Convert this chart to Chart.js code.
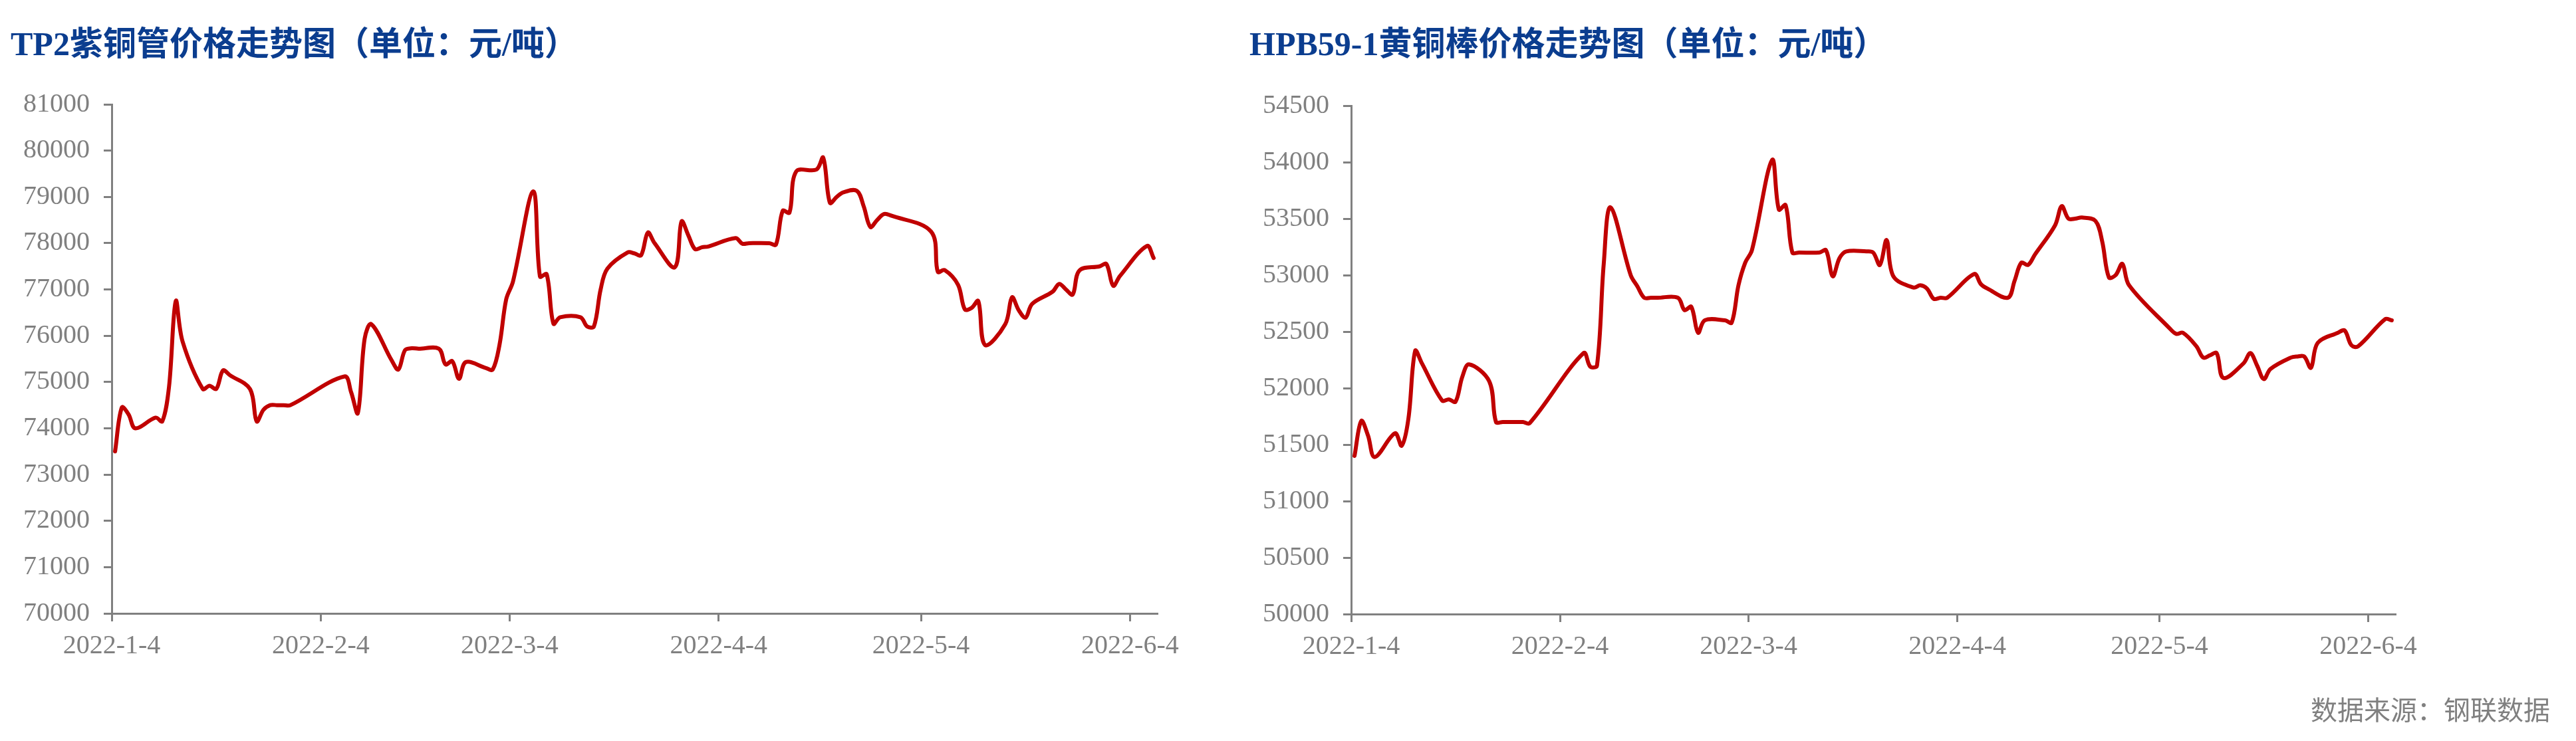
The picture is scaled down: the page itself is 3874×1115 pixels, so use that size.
<!DOCTYPE html>
<html>
<head>
<meta charset="utf-8">
<title>紫铜管 / 黄铜棒价格走势图</title>
<script src="https://cdn.jsdelivr.net/npm/chart.js@4.4.1/dist/chart.umd.min.js"></script>
<style>
  html, body { margin: 0; padding: 0; background: #fff; }
  body { width: 3874px; height: 1115px; position: relative; overflow: hidden; }
  canvas { position: absolute; top: 0; }
  #tp2 { left: 0; }
  #hpb { left: 1860px; }
</style>
</head>
<body>
<canvas id="tp2" width="1860" height="1115"></canvas>
<canvas id="hpb" width="2014" height="1115"></canvas>
<script>
// --- data ---
var tp2Dates = [
  '2022-1-4', '2022-1-5', '2022-1-6', '2022-1-7', '2022-1-10', '2022-1-11', '2022-1-12', '2022-1-13', '2022-1-14',
  '2022-1-17', '2022-1-18', '2022-1-19', '2022-1-20', '2022-1-21', '2022-1-24', '2022-1-25', '2022-1-26', '2022-1-27',
  '2022-1-28', '2022-1-29', '2022-1-30', '2022-2-7', '2022-2-8', '2022-2-9', '2022-2-10', '2022-2-11', '2022-2-14',
  '2022-2-15', '2022-2-16', '2022-2-17', '2022-2-18', '2022-2-21', '2022-2-22', '2022-2-23', '2022-2-24', '2022-2-25',
  '2022-2-28', '2022-3-1', '2022-3-2', '2022-3-3', '2022-3-4', '2022-3-7', '2022-3-8', '2022-3-9', '2022-3-10',
  '2022-3-11', '2022-3-14', '2022-3-15', '2022-3-16', '2022-3-17', '2022-3-18', '2022-3-21', '2022-3-22', '2022-3-23',
  '2022-3-24', '2022-3-25', '2022-3-28', '2022-3-29', '2022-3-30', '2022-3-31', '2022-4-1', '2022-4-2', '2022-4-6',
  '2022-4-7', '2022-4-8', '2022-4-11', '2022-4-12', '2022-4-13', '2022-4-14', '2022-4-15', '2022-4-18', '2022-4-19',
  '2022-4-20', '2022-4-21', '2022-4-22', '2022-4-24', '2022-4-25', '2022-4-26', '2022-4-27', '2022-4-28', '2022-4-29',
  '2022-5-5', '2022-5-6', '2022-5-7', '2022-5-9', '2022-5-10', '2022-5-11', '2022-5-12', '2022-5-13', '2022-5-16',
  '2022-5-17', '2022-5-18', '2022-5-19', '2022-5-20', '2022-5-23', '2022-5-24', '2022-5-25', '2022-5-26', '2022-5-27',
  '2022-5-30', '2022-5-31', '2022-6-1', '2022-6-2', '2022-6-6', '2022-6-7'
];
var tp2Prices = [
  73500, 74450, 74300, 74000, 74230, 74150, 74900, 76750, 75880,
  74850, 74920, 74850, 75250, 75150, 74850, 74150, 74400, 74500,
  74500, 74500, 74500, 75120, 74780, 74330, 75930, 76250, 75470,
  75270, 75690, 75730, 75720, 75720, 75380, 75450, 75070, 75430,
  75300, 75270, 75800, 76790, 77170, 79120, 77280, 77330, 76260,
  76400, 76400, 76200, 76200, 77000, 77450, 77800, 77780, 77740,
  78230, 78000, 77480, 78470, 78170, 77870, 77910, 77930, 78110,
  77990, 78000, 78000, 77970, 78700, 78660, 79550, 79590, 79850,
  78870, 79000, 79100, 79130, 78800, 78350, 78500, 78630, 78600,
  78250, 77380, 77420, 77100, 76570, 76600, 76750, 75800, 76250,
  76830, 76550, 76390, 76690, 76950, 77120, 77000, 76890, 77410,
  77500, 77550, 77080, 77290, 77940, 77680
];

var hpbDates = [
  '2022-1-4', '2022-1-5', '2022-1-6', '2022-1-7', '2022-1-10', '2022-1-11', '2022-1-12', '2022-1-13', '2022-1-14',
  '2022-1-17', '2022-1-18', '2022-1-19', '2022-1-20', '2022-1-21', '2022-1-24', '2022-1-25', '2022-1-26', '2022-1-27',
  '2022-1-28', '2022-1-29', '2022-1-30', '2022-2-7', '2022-2-8', '2022-2-9', '2022-2-10', '2022-2-11', '2022-2-14',
  '2022-2-15', '2022-2-16', '2022-2-17', '2022-2-18', '2022-2-21', '2022-2-22', '2022-2-23', '2022-2-24', '2022-2-25',
  '2022-2-28', '2022-3-1', '2022-3-2', '2022-3-3', '2022-3-4', '2022-3-7', '2022-3-8', '2022-3-9', '2022-3-10',
  '2022-3-11', '2022-3-14', '2022-3-15', '2022-3-16', '2022-3-17', '2022-3-18', '2022-3-21', '2022-3-22', '2022-3-23',
  '2022-3-24', '2022-3-25', '2022-3-28', '2022-3-29', '2022-3-30', '2022-3-31', '2022-4-1', '2022-4-2', '2022-4-6',
  '2022-4-7', '2022-4-8', '2022-4-11', '2022-4-12', '2022-4-13', '2022-4-14', '2022-4-15', '2022-4-18', '2022-4-19',
  '2022-4-20', '2022-4-21', '2022-4-22', '2022-4-24', '2022-4-25', '2022-4-26', '2022-4-27', '2022-4-28', '2022-4-29',
  '2022-5-5', '2022-5-6', '2022-5-7', '2022-5-9', '2022-5-10', '2022-5-11', '2022-5-12', '2022-5-13', '2022-5-16',
  '2022-5-17', '2022-5-18', '2022-5-19', '2022-5-20', '2022-5-23', '2022-5-24', '2022-5-25', '2022-5-26', '2022-5-27',
  '2022-5-30', '2022-5-31', '2022-6-1', '2022-6-2', '2022-6-6', '2022-6-7'
];
var hpbPrices = [
  51400, 51710, 51580, 51390, 51600, 51490, 51730, 52330, 52220,
  51890, 51900, 51880, 52100, 52210, 52060, 51700, 51700, 51700,
  51700, 51700, 51690, 52310, 52190, 52200, 53100, 53600, 53000,
  52900, 52800, 52800, 52800, 52800, 52690, 52720, 52490, 52600,
  52600, 52580, 52910, 53110, 53220, 54020, 53580, 53620, 53200,
  53200, 53200, 53220, 52990, 53150, 53210, 53210, 53200, 53090,
  53310, 52990, 52890, 52910, 52880, 52790, 52800, 52800, 53010,
  52920, 52880, 52800, 52950, 53110, 53090, 53180, 53440, 53610,
  53500, 53500, 53510, 53480, 53300, 52980, 53000, 53100, 52910,
  52530, 52480, 52490, 52370, 52270, 52290, 52310, 52090, 52220,
  52310, 52200, 52080, 52170, 52270, 52280, 52280, 52180, 52400,
  52490, 52510, 52380, 52370, 52610, 52600
];

var monthTicks = ['2022-1-4', '2022-2-4', '2022-3-4', '2022-4-4', '2022-5-4', '2022-6-4'];

var tp2Title = 'TP2紫铜管价格走势图（单位：元/吨）';
var hpbTitle = 'HPB59-1黄铜棒价格走势图（单位：元/吨）';
var sourceText = '数据来源：钢联数据';

// --- helpers ---
var GREY = '#808080';
var LINE_RED = '#c00000';
var TITLE_BLUE = '#0b3d8f';
var SERIF = "'Liberation Serif', 'Times New Roman', serif";

var startDay = monthTicks[0];

function dayOf(s) {
  var p = s.split('-');
  var a = Date.UTC(+p[0], +p[1] - 1, +p[2]);
  var q = startDay.split('-');
  var b = Date.UTC(+q[0], +q[1] - 1, +q[2]);
  return Math.round((a - b) / 86400000);
}

var tickLabelByDay = {};
monthTicks.forEach(function(t) { tickLabelByDay[dayOf(t)] = t; });

// source note under the right chart
var sourceNote = {
  id: 'sourceNote',
  afterDraw: function(chart) {
    var ctx = chart.ctx;
    ctx.save();
    ctx.font = "40px 'Noto Sans CJK SC'";
    ctx.fillStyle = GREY;
    ctx.textAlign = 'right';
    ctx.textBaseline = 'middle';
    ctx.fillText(sourceText, chart.width - 39, 1068);
    ctx.restore();
  }
};

function makeChart(id, title, dates, prices, cfg) {
  // each day is one bucket, point sits in the middle of its day
  var points = dates.map(function(d, i) {
    return { x: dayOf(d) + 0.5, y: prices[i] };
  });
  var lastDay = dayOf(dates[dates.length - 1]) + 1;

  var axisGrid = {
    drawOnChartArea: false,
    drawTicks: true,
    tickLength: 12,
    color: GREY,
    lineWidth: 3
  };
  var axisBorder = { display: true, color: GREY, width: 3 };
  var tickFont = { family: SERIF, size: 40 };

  return new Chart(document.getElementById(id), {
    type: 'line',
    data: {
      datasets: [{
        data: points,
        borderColor: LINE_RED,
        borderWidth: 6,
        pointRadius: 0,
        fill: false,
        tension: 0.35,
        borderCapStyle: 'round',
        borderJoinStyle: 'round'
      }]
    },
    plugins: cfg.plugins || [],
    options: {
      responsive: false,
      animation: false,
      events: [],
      layout: { padding: { left: cfg.padLeft, right: cfg.padRight, top: 0, bottom: 0 } },
      plugins: {
        legend: { display: false },
        tooltip: { enabled: false },
        title: {
          display: true,
          text: title,
          align: 'start',
          color: TITLE_BLUE,
          font: { family: "'Liberation Serif', 'Noto Sans CJK SC', serif", size: 50, weight: 'bold', lineHeight: 1.2 },
          padding: { top: 40, bottom: cfg.areaTop - 100 }
        }
      },
      scales: {
        x: {
          type: 'linear',
          min: 0,
          max: lastDay,
          afterBuildTicks: function(scale) {
            scale.ticks = monthTicks.map(function(t) { return { value: dayOf(t) }; });
          },
          afterFit: function(scale) { scale.height = 1115 - cfg.areaBottom; },
          ticks: {
            autoSkip: false,
            maxRotation: 0,
            padding: 13,
            color: GREY,
            font: tickFont,
            callback: function(v) { return tickLabelByDay[v] || ''; }
          },
          grid: axisGrid,
          border: axisBorder
        },
        y: {
          min: cfg.yMin,
          max: cfg.yMax,
          afterFit: function(scale) { scale.width = cfg.axisLeft - cfg.padLeft; },
          ticks: {
            stepSize: cfg.yStep,
            padding: 21,
            color: GREY,
            font: tickFont,
            callback: function(v) { return String(v); }
          },
          grid: axisGrid,
          border: axisBorder
        }
      }
    }
  });
}

makeChart('tp2', tp2Title, tp2Dates, tp2Prices, {
  padLeft: 16, padRight: 120, axisLeft: 168,
  areaTop: 157, areaBottom: 923,
  yMin: 70000, yMax: 81000, yStep: 1000
});

makeChart('hpb', hpbTitle, hpbDates, hpbPrices, {
  padLeft: 19, padRight: 272, axisLeft: 172,
  areaTop: 159, areaBottom: 924,
  yMin: 50000, yMax: 54500, yStep: 500,
  plugins: [sourceNote]
});
</script>
</body>
</html>
